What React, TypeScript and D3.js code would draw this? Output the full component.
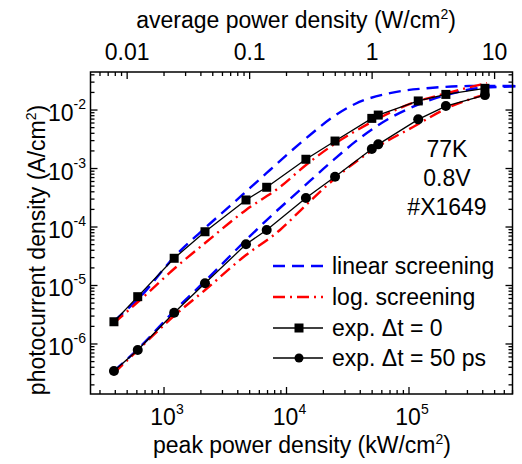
import React from "react";
import * as d3 from "d3";

// peak power density (kW/cm^2) of the measured points
const peak = [390, 610, 1210, 2160, 4670, 6890, 14400, 24900, 49700, 56100, 119000, 200000, 417000];
// photocurrent density (A/cm^2)
const expDt0 = [2.4e-6, 6.44e-6, 2.92e-5, 8.3e-5, 2.9e-4, 4.78e-4, 1.44e-3, 2.95e-3, 7.2e-3, 8.2e-3, 1.43e-2, 1.85e-2, 2.35e-2];
const expDt50 = [3.45e-7, 7.88e-7, 3.43e-6, 1.09e-5, 5.06e-5, 8.9e-5, 3.13e-4, 7.24e-4, 2.15e-3, 2.59e-3, 6.93e-3, 1.17e-2, 1.8e-2];

// model curves: [peak, current]
const linDt0: [number, number][] = [
  [391, 2.47e-6], [637, 6.35e-6], [1230, 3.19e-5], [2163, 9.61e-5], [3460, 2.29e-4],
  [5035, 4.65e-4], [7328, 9.43e-4], [10690, 1.92e-3], [15560, 3.74e-3], [22650, 7.02e-3],
  [36240, 1.27e-2], [69960, 1.95e-2], [148300, 2.38e-2], [314500, 2.57e-2], [820000, 2.57e-2],
];
const linDt50: [number, number][] = [
  [391, 3.45e-7], [637, 8.89e-7], [1230, 3.81e-6], [2163, 1.19e-5], [4670, 6.0e-5],
  [7328, 1.48e-4], [12880, 4.29e-4], [22650, 1.24e-3], [39800, 3.32e-3], [69960, 7.3e-3],
  [123000, 1.27e-2], [216300, 1.88e-2], [380000, 2.38e-2], [667000, 2.52e-2], [820000, 2.57e-2],
];
const logDt0: [number, number][] = [
  [391, 2.29e-6], [637, 5.65e-6], [1230, 1.99e-5], [2163, 5.32e-5], [4670, 1.96e-4],
  [8850, 4.83e-4], [14420, 1.15e-3], [22650, 2.33e-3], [49660, 6.24e-3], [101900, 1.27e-2],
  [205000, 1.95e-2], [433500, 2.9e-2],
];
const logDt50: [number, number][] = [
  [391, 3.19e-7], [637, 8.55e-7], [1230, 3.13e-6], [2163, 8.37e-6], [4670, 3.32e-5],
  [8850, 8.89e-5], [14420, 2.38e-4], [23990, 6.35e-4], [54850, 2.33e-3], [107900, 5.12e-3],
  [205000, 1.08e-2], [401700, 1.8e-2],
];

const legendLabels = ["linear screening", "log. screening", "exp. \u0394t = 0", "exp. \u0394t = 50 ps"];
const notes = ["77K", "0.8V", "#X1649"];
const avgPerPeak = 2e-5; // W/cm^2 average per kW/cm^2 peak

const W = 522;
const H = 464;
const m = { left: 90.5, right: 512.5, top: 72, bottom: 394 };
const font = "'Liberation Sans', Arial, sans-serif";

const x = d3.scaleLog().domain([251, 7.0e5]).range([m.left, m.right]);
const xTop = d3.scaleLog().domain([251 * avgPerPeak, 7.0e5 * avgPerPeak]).range([m.left, m.right]);
const y = d3.scaleLog().domain([1.396e-7, 0.0447]).range([m.bottom, m.top]);

const isMajor = (t: number) => Math.abs(Math.log10(t) - Math.round(Math.log10(t))) < 1e-6;

const App = () => {
  const line = d3
    .line<[number, number]>()
    .x((d) => x(d[0]))
    .y((d) => y(d[1]))
    .curve(d3.curveMonotoneX);
  const straight = d3
    .line<[number, number]>()
    .x((d) => x(d[0]))
    .y((d) => y(d[1]));

  const dt0: [number, number][] = peak.map((p, i) => [p, expDt0[i]]);
  const dt50: [number, number][] = peak.map((p, i) => [p, expDt50[i]]);

  const blue = { stroke: "#0000ff", strokeWidth: 2.4, fill: "none", strokeDasharray: "12 7" };
  const red = { stroke: "#ff0000", strokeWidth: 2.4, fill: "none", strokeDasharray: "12 5 2 5" };

  const xt = x.ticks().filter((t) => t >= 251 && t <= 7.0e5);
  const xtt = xTop.ticks();
  const yt = y.ticks();

  const legY = [266, 297, 328, 358];

  return (
    <svg width={W} height={H} style={{ position: "absolute", left: 0, top: 0, background: "#fff" }} fontFamily={font}>
      <rect width={W} height={H} fill="#fff" />

      {/* model curves */}
      <path d={line(linDt0) || ""} {...blue} />
      <path d={line(linDt50) || ""} {...blue} />
      <path d={line(logDt0) || ""} {...red} />
      <path d={line(logDt50) || ""} {...red} />

      {/* measured */}
      <path d={straight(dt0) || ""} stroke="#000" strokeWidth={1.3} fill="none" />
      <path d={straight(dt50) || ""} stroke="#000" strokeWidth={1.3} fill="none" />
      {dt0.map((d, i) => (
        <rect key={"s" + i} x={x(d[0]) - 4.5} y={y(d[1]) - 4.5} width={9} height={9} fill="#000" />
      ))}
      {dt50.map((d, i) => (
        <circle key={"c" + i} cx={x(d[0])} cy={y(d[1])} r={5} fill="#000" />
      ))}

      {/* frame */}
      <rect x={m.left} y={m.top} width={m.right - m.left} height={m.bottom - m.top} fill="none" stroke="#000" strokeWidth={1.5} />

      {/* bottom + top ticks */}
      {xt.map((t, i) => {
        const len = isMajor(t) ? 7 : 4;
        return <line key={"xb" + i} x1={x(t)} x2={x(t)} y1={m.bottom} y2={m.bottom - len} stroke="#000" strokeWidth={1.3} />;
      })}
      {xt.filter(isMajor).map((t, i) => (
        <text key={"xl" + i} x={x(t) + 3} y={425} fontSize={23} textAnchor="middle">
          10<tspan dy={-11} fontSize={14}>{Math.round(Math.log10(t))}</tspan>
        </text>
      ))}
      {xtt.map((t, i) => {
        const len = isMajor(t) ? 7 : 4;
        return <line key={"xt" + i} x1={xTop(t)} x2={xTop(t)} y1={m.top} y2={m.top + len} stroke="#000" strokeWidth={1.3} />;
      })}
      {xtt.filter(isMajor).map((t, i) => (
        <text key={"xtl" + i} x={xTop(t)} y={60} fontSize={23} textAnchor="middle">
          {d3.format("~g")(t)}
        </text>
      ))}

      {/* left + right ticks */}
      {yt.map((t, i) => {
        const len = isMajor(t) ? 7 : 4;
        return (
          <g key={"y" + i}>
            <line x1={m.left} x2={m.left + len} y1={y(t)} y2={y(t)} stroke="#000" strokeWidth={1.3} />
            <line x1={m.right} x2={m.right - len} y1={y(t)} y2={y(t)} stroke="#000" strokeWidth={1.3} />
          </g>
        );
      })}
      {yt.filter(isMajor).filter((t) => t > 5e-7).map((t, i) => (
        <text key={"yl" + i} x={86} y={y(t) + 11} fontSize={23} textAnchor="end">
          10<tspan dy={-12} fontSize={14}>{"-" + Math.abs(Math.round(Math.log10(t)))}</tspan>
        </text>
      ))}

      {/* axis titles */}
      <text x={296} y={28} fontSize={23} textAnchor="middle">
        average power density (W/cm<tspan dy={-9} fontSize={14}>2</tspan>
        <tspan dy={9}>)</tspan>
      </text>
      <text x={302} y={453} fontSize={23} textAnchor="middle">
        peak power density (kW/cm<tspan dy={-9} fontSize={14}>2</tspan>
        <tspan dy={9}>)</tspan>
      </text>
      <text transform="translate(45,250) rotate(-90)" fontSize={23} textAnchor="middle">
        photocurrent density (A/cm<tspan dy={-9} fontSize={14}>2</tspan>
        <tspan dy={9}>)</tspan>
      </text>

      {/* notes */}
      {notes.map((n, i) => (
        <text key={n} x={447} y={157 + i * 29} fontSize={23} textAnchor="middle">
          {n}
        </text>
      ))}

      {/* legend */}
      <line x1={273} x2={323} y1={legY[0]} y2={legY[0]} {...blue} />
      <line x1={273} x2={323} y1={legY[1]} y2={legY[1]} {...red} />
      <line x1={273} x2={323} y1={legY[2]} y2={legY[2]} stroke="#000" strokeWidth={1.3} />
      <rect x={299 - 4.5} y={legY[2] - 4.5} width={9} height={9} fill="#000" />
      <line x1={273} x2={323} y1={legY[3]} y2={legY[3]} stroke="#000" strokeWidth={1.3} />
      <circle cx={299} cy={legY[3]} r={4.5} fill="#000" />
      {legendLabels.map((l, i) => (
        <text key={l} x={332} y={legY[i] + 8} fontSize={23}>
          {l}
        </text>
      ))}
    </svg>
  );
};

export default App;
